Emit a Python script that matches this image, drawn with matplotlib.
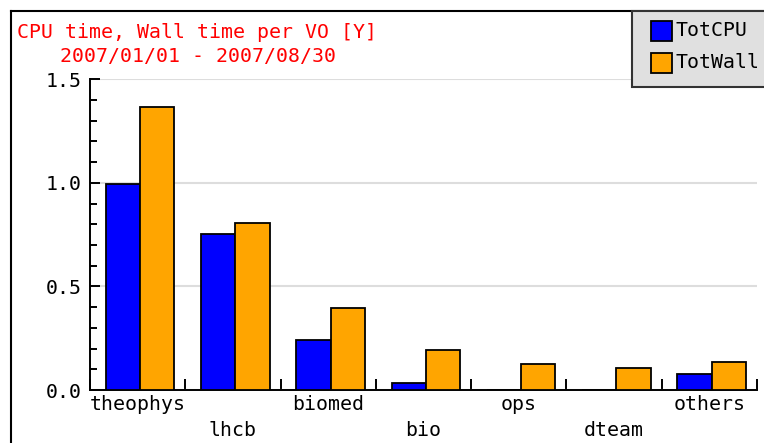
import matplotlib
matplotlib.use("Agg")
import matplotlib.pyplot as plt
from matplotlib.patches import Rectangle
from matplotlib.lines import Line2D
import matplotlib.transforms as mtransforms

categories = ["theophys", "lhcb", "biomed", "bio", "ops", "dteam", "others"]
tot_cpu = [0.994, 0.753, 0.241, 0.032, 0.0, 0.0, 0.079]
tot_wall = [1.367, 0.807, 0.394, 0.193, 0.126, 0.105, 0.135]
series_names = ["TotCPU", "TotWall"]
title_lines = ["CPU time, Wall time per VO [Y]", "2007/01/01 - 2007/08/30"]
yticks = [0.0, 0.5, 1.0, 1.5]

W, H = 764, 443
FONT = "DejaVu Sans Mono"
FS = 14.3
BLUE = "#0000ff"
ORANGE = "#ffa500"

fig = plt.figure(figsize=(W / 100, H / 100), dpi=100)

def fx(px):
    return px / W

def fy(py):
    return 1 - py / H

ax_left, ax_right, ax_bottom, ax_top = 90, 757, 390, 79.3
ax = fig.add_axes([fx(ax_left), fy(ax_bottom), (ax_right - ax_left) / W, (ax_bottom - ax_top) / H])

n = len(categories)
xs = list(range(n))
offset, bw = 0.165, 0.36
ax.bar([x + offset for x in xs], tot_cpu, width=bw, align="edge", color=BLUE,
       edgecolor="black", linewidth=1.3, zorder=3)
ax.bar([x + offset + bw for x in xs], tot_wall, width=bw, align="edge", color=ORANGE,
       edgecolor="black", linewidth=1.3, zorder=3)

ax.set_xlim(0, n)
ax.set_ylim(0, 1.5)

for s in ["top", "right"]:
    ax.spines[s].set_visible(False)
for s in ["left", "bottom"]:
    ax.spines[s].set_linewidth(1.4)
    ax.spines[s].set_color("black")

ax.set_yticks(yticks)
ax.set_yticklabels([f"{v:.1f}" for v in yticks], fontfamily=FONT, fontsize=FS)
ax.set_yticks([i / 10 for i in range(16) if i % 5 != 0], minor=True)
ax.tick_params(axis="y", which="major", direction="in", length=7, width=1.4, pad=6)
ax.tick_params(axis="y", which="minor", direction="in", length=5, width=1.4)

ax.set_xticks(list(range(n + 1)))
ax.set_xticklabels([])
ax.tick_params(axis="x", which="major", direction="in", length=8, width=1.4)

ax.yaxis.grid(True, color="#dddddd", linewidth=1.5, zorder=0)
ax.set_axisbelow(True)

trans = mtransforms.blended_transform_factory(ax.transData, fig.transFigure)
for i, cat in enumerate(categories):
    ypx = 405 if i % 2 == 0 else 431
    ax.text(i + 0.5, fy(ypx), cat, transform=trans, ha="center", va="center",
            fontfamily=FONT, fontsize=FS, color="black", clip_on=False)

# title
fig.text(fx(17), fy(32), title_lines[0], color="red", fontfamily=FONT, fontsize=FS,
         ha="left", va="center")
fig.text(fx(60), fy(57), title_lines[1], color="red", fontfamily=FONT, fontsize=FS,
         ha="left", va="center")

# outer frame
fig.add_artist(Line2D([fx(11), fx(11)], [fy(11), fy(H + 5)], color="black", lw=1.5,
                      transform=fig.transFigure))
fig.add_artist(Line2D([fx(11), fx(W + 5)], [fy(11), fy(11)], color="black", lw=1.5,
                      transform=fig.transFigure))

# legend
fig.add_artist(Rectangle((fx(632), fy(87)), fx(W + 10) - fx(632), fy(11) - fy(87),
                         transform=fig.transFigure, facecolor="#e0e0e0",
                         edgecolor="#333333", lw=1.5, zorder=5))
for k, (name, col) in enumerate(zip(series_names, [BLUE, ORANGE])):
    top = 21 + k * 31.5
    fig.add_artist(Rectangle((fx(651), fy(top + 20)), 21 / W, 20 / H,
                             transform=fig.transFigure, facecolor=col,
                             edgecolor="black", lw=1.3, zorder=6))
    fig.text(fx(676), fy(top + 10), name, fontfamily=FONT, fontsize=FS,
             ha="left", va="center", zorder=7)

fig.savefig("out.png", dpi=100)
